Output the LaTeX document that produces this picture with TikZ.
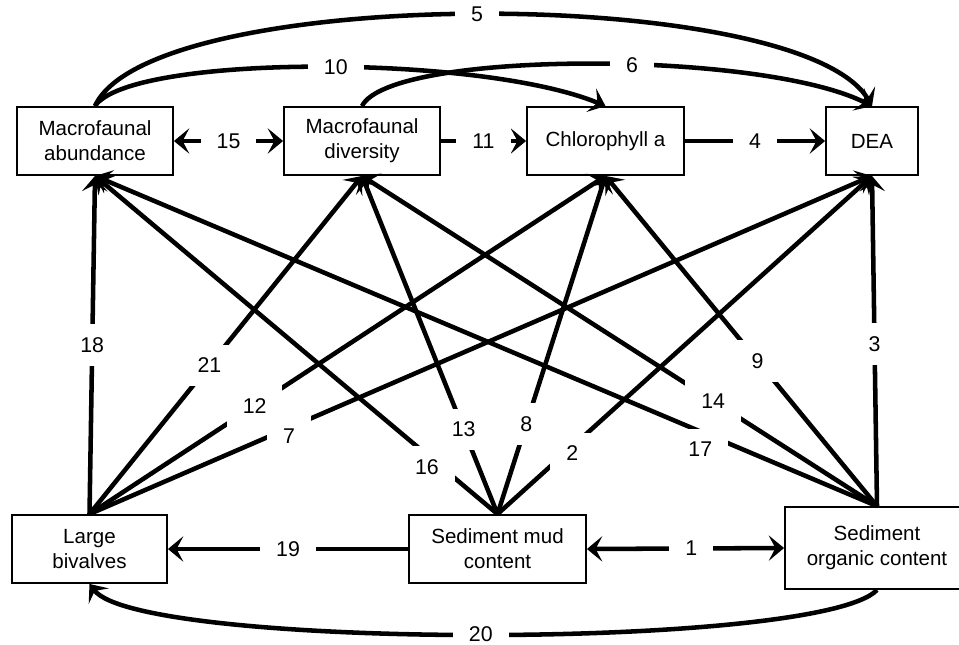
\documentclass[tikz,border=0pt]{standalone}
\usepackage{fontspec}
\setmainfont{Liberation Sans}
\usetikzlibrary{arrows.meta}
\begin{document}
\begin{tikzpicture}[x=0.75pt,y=-0.75pt,
  box/.style={draw, line width=1.4pt, align=center, inner sep=0pt, minimum height=51pt, font=\fontsize{15.4}{18.6}\selectfont},
  conn/.style={line width=3.4pt, -{Stealth[length=11.5pt,width=19pt,inset=5pt]}},
  biconn/.style={line width=3.4pt, {Stealth[length=11.5pt,width=19pt,inset=5pt]}-{Stealth[length=11.5pt,width=19pt,inset=5pt]}},
  lbl/.style={fill=white, inner xsep=12pt, inner ysep=10pt, font=\fontsize{16}{19}\selectfont}]
\useasboundingbox (0,0) rectangle (959,644);
\fill[white] (0,0) rectangle (959,644);

% nodes
\node[box, minimum width=117pt] (MA) at (95,141) {Macrofaunal\\abundance};
\node[box, minimum width=117pt] (MD) at (362,141) {Macrofaunal\\diversity};
\node[box, minimum width=117.75pt] (CH) at (605.5,141) {Chlorophyll a};
\node[box, minimum width=69pt] (DEA) at (872,141) {DEA};
\node[box, minimum width=116.25pt] (LB) at (89.5,549) {Large\\bivalves};
\node[box, minimum width=132.75pt] (SM) at (497.5,549) {Sediment mud\\content};
\node[box, minimum width=138pt, minimum height=61.5pt] (SOC) at (877,548) {Sediment\\organic content};

% top curves
\draw[conn] (MA.north) .. controls (150,-16) and (800,-16) .. node[lbl,pos=0.5] {5} (DEA.north);
\draw[conn] (MA.north) .. controls (130,54) and (480,54) .. node[lbl,pos=0.53] {10} (CH.north);
\draw[conn] (MD.north) .. controls (390,50) and (760,50) .. node[lbl,pos=0.57] {6} (DEA.north);

% bottom curve
\draw[conn] (SOC.south) .. controls (820,650) and (140,650) .. node[lbl,pos=0.5] {20} (LB.south);

% horizontal
\draw[biconn] (MA.east) -- node[lbl] {15} (MD.west);
\draw[conn] (MD.east) -- node[lbl] {11} (CH.west);
\draw[conn] (CH.east) -- node[lbl] {4} (DEA.west);
\draw[conn] (SM.west) -- node[lbl] {19} (LB.east);
\draw[biconn] (SM.east) -- node[lbl,pos=0.53] {1} (SOC.west);

% from large bivalves
\draw[conn] (LB.north) -- node[lbl,pos=0.5] {18} (MA.south);
\draw[conn] (LB.north) -- node[lbl,pos=0.44] {21} (MD.south);
\draw[conn] (LB.north) -- node[lbl,pos=0.32] {12} (CH.south);
\draw[conn] (LB.north) -- node[lbl,pos=0.255,shift={(0,8)}] {7} (DEA.south);

% from sediment mud content
\draw[conn] (SM.north) -- node[lbl,pos=0.153,shift={(-9,5)}] {16} (MA.south);
\draw[conn] (SM.north) -- node[lbl,pos=0.25] {13} (MD.south);
\draw[conn] (SM.north) -- node[lbl,pos=0.266] {8} (CH.south);
\draw[conn] (SM.north) -- node[lbl,pos=0.2,shift={(0,7)}] {2} (DEA.south);

% from sediment organic content
\draw[conn] (SOC.north) -- node[lbl,pos=0.217,shift={(-7,15)}] {17} (MA.south);
\draw[conn] (SOC.north) -- node[lbl,pos=0.318] {14} (MD.south);
\draw[conn] (SOC.north) -- node[lbl,pos=0.44] {9} (CH.south);
\draw[conn] (SOC.north) -- node[lbl,pos=0.49] {3} (DEA.south);
\end{tikzpicture}
\end{document}
